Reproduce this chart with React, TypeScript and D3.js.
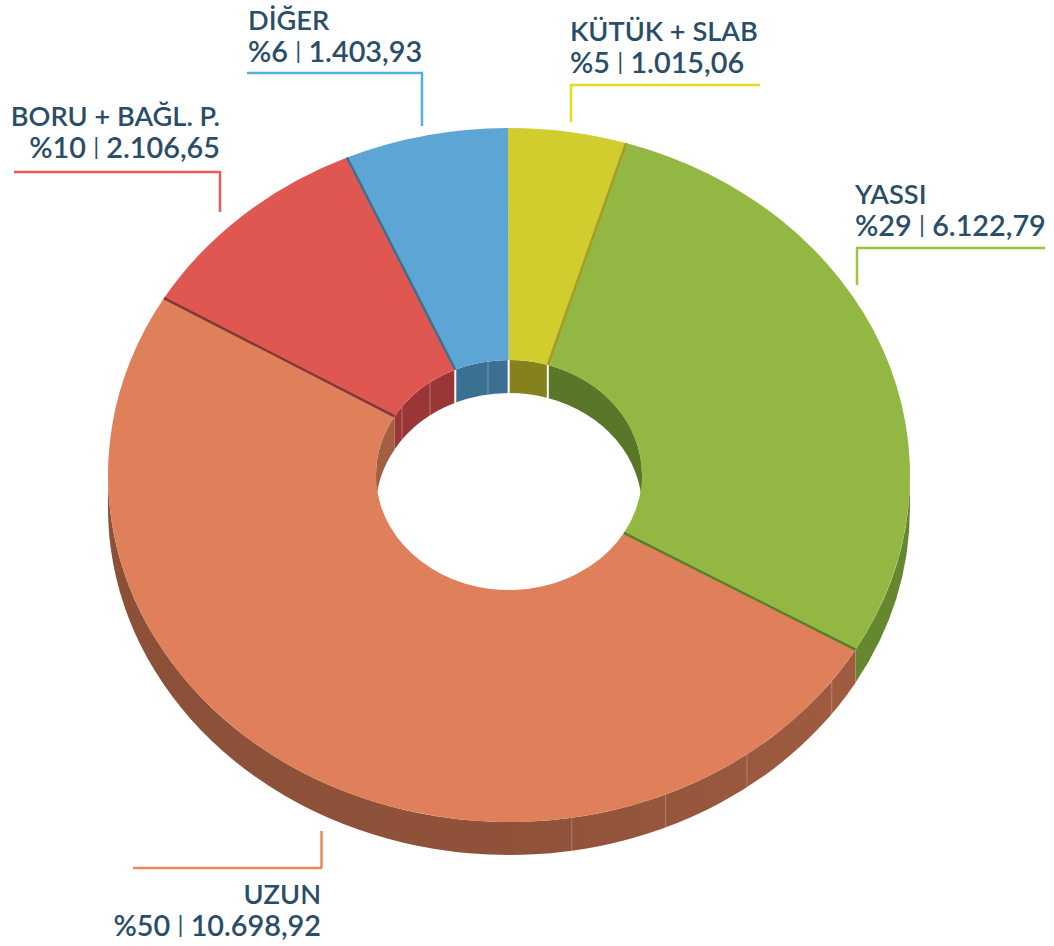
import React from "react";
import * as d3 from "d3";

const names = ["KÜTÜK + SLAB", "YASSI", "UZUN", "BORU + BAĞL. P.", "DİĞER"];
const shares = ["%5", "%29", "%50", "%10", "%6"];
const amounts = ["1.015,06", "6.122,79", "10.698,92", "2.106,65", "1.403,93"];
const values = [1015.06, 6122.79, 10698.92, 2106.65, 1403.93];

const topColors = ["#d2cd2e", "#93b743", "#e0805b", "#e05752", "#5da5d5"];
const innerColors = ["#85811c", "#5a7629", "#a25f43", "#9a3636", "#3c7093"];
const outerColors = ["#85811c", "#65882f", "url(#uzunWall)", "#9a3636", "#3c7093"];
const edgeColors = ["#a89a2c", "#5a7d2a", "#7a3a3a", "#3f6f8f"];
const leaderColors = ["#e3dc1f", "#9cc43c", "#f08560", "#f0595a", "#55b0e0"];

const W = 1054;
const H = 946;
const cx = 509;
const cy = 475;
const rx = 401;
const ry = 347;
const innerRx = 133;
const innerRy = 115;
const depth = 33;
const rad = Math.PI / 180;
const turn = -0.15 * rad;

// where the label and its elbow line sit, per slice
const labelLayout = [
  { x: 570, y: 41, anchor: "start", lineY: 85, lineFrom: 570, lineTo: 760, tickX: 571, tickY: 122 },
  { x: 855, y: 204, anchor: "start", lineY: 248, lineFrom: 856, lineTo: 1045, tickX: 857, tickY: 285 },
  { x: 321, y: 904, anchor: "end", lineY: 868, lineFrom: 133, lineTo: 322, tickX: 321.5, tickY: 831 },
  { x: 220, y: 126, anchor: "end", lineY: 172, lineFrom: 14, lineTo: 221, tickX: 220, tickY: 212 },
  { x: 248, y: 30, anchor: "start", lineY: 73, lineFrom: 247, lineTo: 423, tickX: 422, tickY: 126 },
];

// faint seams on the walls, in degrees around the ring
const outerSeams = [126.4, 143.6, 157, 171];
const innerSeams = [-53.6, -36.4, -9.1];

const pie = d3
  .pie<number>()
  .sort(null)
  .startAngle(turn)
  .endAngle(2 * Math.PI + turn)(values);

function pt(a: number, rX: number, rY: number): [number, number] {
  return [cx + rX * Math.sin(a), cy - rY * Math.cos(a)];
}

function face(a0: number, a1: number) {
  const large = a1 - a0 > Math.PI ? 1 : 0;
  const [ox0, oy0] = pt(a0, rx, ry);
  const [ox1, oy1] = pt(a1, rx, ry);
  const [ix0, iy0] = pt(a0, innerRx, innerRy);
  const [ix1, iy1] = pt(a1, innerRx, innerRy);
  return (
    `M${ox0},${oy0}A${rx},${ry} 0 ${large} 1 ${ox1},${oy1}` +
    `L${ix1},${iy1}A${innerRx},${innerRy} 0 ${large} 0 ${ix0},${iy0}Z`
  );
}

function wall(a0: number, a1: number, rX: number, rY: number) {
  const [x0, y0] = pt(a0, rX, rY);
  const [x1, y1] = pt(a1, rX, rY);
  const large = a1 - a0 > Math.PI ? 1 : 0;
  return (
    `M${x0},${y0}A${rX},${rY} 0 ${large} 1 ${x1},${y1}` +
    `L${x1},${y1 + depth}A${rX},${rY} 0 ${large} 0 ${x0},${y0 + depth}Z`
  );
}

function overlap(s: number, e: number, lo: number, hi: number) {
  const a = Math.max(s, lo);
  const b = Math.min(e, hi);
  return b > a ? [a, b] : null;
}

export default function App() {
  return (
    <svg
      width={W}
      height={H}
      viewBox={`0 0 ${W} ${H}`}
      style={{ position: "absolute", left: 0, top: 0, background: "#fff" }}
    >
      <defs>
        <linearGradient id="uzunWall" gradientUnits="userSpaceOnUse" x1={108} x2={856} y1={0} y2={0}>
          <stop offset="0" stopColor="#8c4f37" />
          <stop offset="0.6" stopColor="#90533a" />
          <stop offset="1" stopColor="#a05c40" />
        </linearGradient>
      </defs>

      {/* outer walls, front half only */}
      {pie.map((d, i) => {
        const r = overlap(d.startAngle, d.endAngle, Math.PI / 2, (3 * Math.PI) / 2);
        return r ? <path key={i} d={wall(r[0], r[1], rx, ry)} fill={outerColors[i]} /> : null;
      })}
      {outerSeams.map((deg) => {
        const [x, y] = pt(deg * rad, rx, ry);
        return <line key={deg} x1={x} x2={x} y1={y} y2={y + depth} stroke="#fff" strokeOpacity={0.25} strokeWidth={1} />;
      })}

      {/* inner walls, back half only */}
      {pie.map((d, i) => {
        const r =
          overlap(d.startAngle, d.endAngle, -Math.PI / 2, Math.PI / 2) ||
          overlap(d.startAngle - 2 * Math.PI, d.endAngle - 2 * Math.PI, -Math.PI / 2, Math.PI / 2);
        return r ? <path key={i} d={wall(r[0], r[1], innerRx, innerRy)} fill={innerColors[i]} /> : null;
      })}
      {innerSeams.map((deg) => {
        const [x, y] = pt(deg * rad, innerRx, innerRy);
        return <line key={deg} x1={x} x2={x} y1={y} y2={y + depth} stroke="#fff" strokeOpacity={0.3} strokeWidth={1} />;
      })}

      {/* white slits where slices meet on the inner wall */}
      {pie.map((d, i) => {
        if (i === 1 || i === 2) return null;
        const [x, y] = pt(d.endAngle, innerRx, innerRy);
        return <line key={i} x1={x} x2={x} y1={y} y2={y + depth} stroke="#fff" strokeWidth={2} />;
      })}

      {/* top faces */}
      {pie.map((d, i) => (
        <path key={i} d={face(d.startAngle, d.endAngle)} fill={topColors[i]} />
      ))}

      {/* dark edge between neighbouring slices */}
      {edgeColors.map((c, i) => {
        const [x0, y0] = pt(pie[i].endAngle, innerRx, innerRy);
        const [x1, y1] = pt(pie[i].endAngle, rx, ry);
        return <line key={i} x1={x0} y1={y0} x2={x1} y2={y1} stroke={c} strokeWidth={2.4} />;
      })}

      {/* labels and elbows */}
      {labelLayout.map((l, i) => (
        <g key={i}>
          <path
            d={`M${l.lineFrom},${l.lineY}L${l.lineTo},${l.lineY}M${l.tickX},${l.lineY}L${l.tickX},${l.tickY}`}
            fill="none"
            stroke={leaderColors[i]}
            strokeWidth={2.5}
          />
          <text
            textAnchor={l.anchor as "start" | "end"}
            fontFamily="Lato"
            fontWeight={600}
            fill="#2a4d68"
          >
            <tspan x={l.x} y={l.y} fontSize={27.2}>
              {names[i]}
            </tspan>
            <tspan x={l.x} y={l.y + 32} fontSize={28.8}>
              {shares[i]}{" "}
              <tspan fontSize={24} fontWeight={400} dy={-3}>
                |
              </tspan>
              <tspan dy={3}> {amounts[i]}</tspan>
            </tspan>
          </text>
        </g>
      ))}
    </svg>
  );
}
